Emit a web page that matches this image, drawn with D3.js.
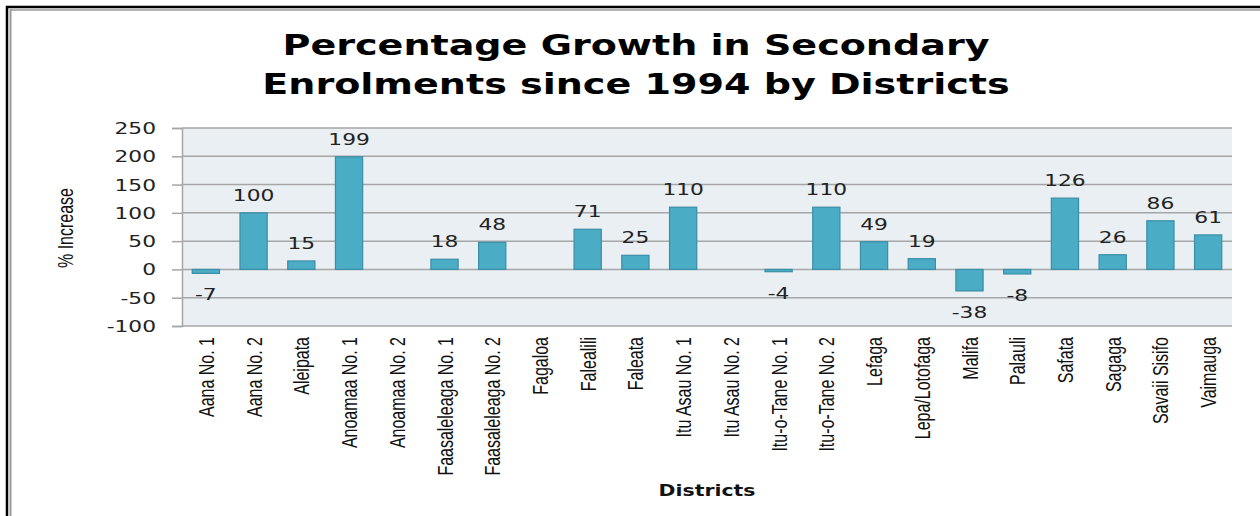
<!DOCTYPE html>
<html>
<head>
<meta charset="utf-8">
<script src="https://cdn.jsdelivr.net/npm/d3@7"></script>
<style>
  html, body { margin: 0; padding: 0; background: #fff; }
  svg { display: block; }
</style>
</head>
<body>
<svg id="chart" width="1260" height="516"></svg>
<script>
const districts = ["Aana No. 1","Aana No. 2","Aleipata","Anoamaa No. 1","Anoamaa No. 2",
  "Faasaleleaga No. 1","Faasaleleaga No. 2","Fagaloa","Falealili","Faleata","Itu Asau No. 1",
  "Itu Asau No. 2","Itu-o-Tane No. 1","Itu-o-Tane No. 2","Lefaga","Lepa/Lotofaga","Malifa",
  "Palauli","Safata","Sagaga","Savaii Sisifo","Vaimauga"];
const growth = [-7,100,15,199,null,18,48,null,71,25,110,null,-4,110,49,19,-38,-8,126,26,86,61];
const yTicks = [-100,-50,0,50,100,150,200,250];
const titleLines = ["Percentage Growth in Secondary","Enrolments since 1994 by Districts"];

const SX = 1.36; // horizontal stretch seen in the reference lettering
const svg = d3.select("#chart");
const m = {left:182, right:1232, top:128, bottom:326};
const numFont = "DejaVu Sans, Verdana, sans-serif";
const narrowFont = "Liberation Sans, Arial, sans-serif";

// outer frame
svg.append("rect").attr("x",7).attr("y",7).attr("width",1300).attr("height",600)
  .attr("fill","none").attr("stroke","#000").attr("stroke-width",2.5);
svg.append("line").attr("x1",10.5).attr("x2",10.5).attr("y1",9).attr("y2",516)
  .attr("stroke","#999").attr("stroke-width",2);
svg.append("line").attr("x1",10).attr("x2",1260).attr("y1",10).attr("y2",10)
  .attr("stroke","#999").attr("stroke-width",1.5);

const x = d3.scaleBand().domain(districts).range([m.left, m.right]).paddingInner(0.43).paddingOuter(0.215);
const y = d3.scaleLinear().domain([-100,250]).range([m.bottom, m.top]);

// plot background
svg.append("rect").attr("x",m.left).attr("y",m.top).attr("width",m.right-m.left).attr("height",m.bottom-m.top)
  .attr("fill","#E9EFF2");

// axis line + ticks (labels drawn separately for stretched lettering)
const yAxis = d3.axisLeft(y).tickValues(yTicks).tickSize(10).tickFormat("");
const gy = svg.append("g").attr("transform",`translate(${m.left},0)`).call(yAxis);
gy.select(".domain").attr("stroke","#A6A6A6").attr("stroke-width",1.5);
gy.selectAll(".tick line").attr("stroke","#A6A6A6").attr("stroke-width",1.5);

svg.append("g").selectAll("text").data(yTicks).join("text")
  .attr("transform",d=>`translate(156,${y(d)+6}) scale(${SX},1)`)
  .attr("text-anchor","end").attr("fill","#222")
  .style("font-family",numFont).style("font-size","16px")
  .text(d=>String(d));

// gridlines
svg.append("g").selectAll("line").data(yTicks).join("line")
  .attr("x1",m.left).attr("x2",m.right).attr("y1",d=>y(d)).attr("y2",d=>y(d))
  .attr("stroke","#A6A6A6").attr("stroke-width",1.5);

// bars
const data = districts.map((d,i)=>({d, v:growth[i]})).filter(o=>o.v!==null);
svg.append("g").selectAll("rect").data(data).join("rect")
  .attr("x",o=>x(o.d)).attr("width",x.bandwidth())
  .attr("y",o=>y(Math.max(0,o.v))).attr("height",o=>Math.abs(y(o.v)-y(0)))
  .attr("fill","#4BACC6").attr("stroke","#3A8EA6").attr("stroke-width",1.2);

// value labels
svg.append("g").selectAll("text").data(data).join("text")
  .attr("transform",o=>`translate(${x(o.d)+x.bandwidth()/2},${o.v>=0 ? y(o.v)-12 : y(o.v)+27}) scale(${SX},1)`)
  .attr("text-anchor","middle")
  .attr("fill","#222")
  .style("font-family",numFont).style("font-size","16px")
  .text(o=>String(o.v));

// category labels
svg.append("g").selectAll("text").data(districts).join("text")
  .attr("transform",d=>`translate(${x(d)+x.bandwidth()/2+8},337) rotate(-90) scale(1,${SX})`)
  .attr("text-anchor","end")
  .attr("fill","#111")
  .style("font-family",narrowFont).style("font-size","16px")
  .text(d=>d);

// axis titles
svg.append("text").attr("transform",`translate(73,228) rotate(-90) scale(1,${SX})`)
  .attr("text-anchor","middle").attr("fill","#111")
  .style("font-family",narrowFont).style("font-size","16px")
  .text("% Increase");
svg.append("text").attr("transform",`translate(707,496) scale(${SX},1)`)
  .attr("text-anchor","middle").attr("fill","#111")
  .style("font-family",numFont).style("font-weight","bold").style("font-size","15px")
  .text("Districts");

// title
svg.append("g").selectAll("text").data(titleLines).join("text")
  .attr("transform",(d,i)=>`translate(636,${55+i*39}) scale(${SX},1)`)
  .attr("text-anchor","middle").attr("fill","#000")
  .style("font-family",numFont).style("font-weight","bold").style("font-size","28px")
  .text(d=>d);
</script>
</body>
</html>
